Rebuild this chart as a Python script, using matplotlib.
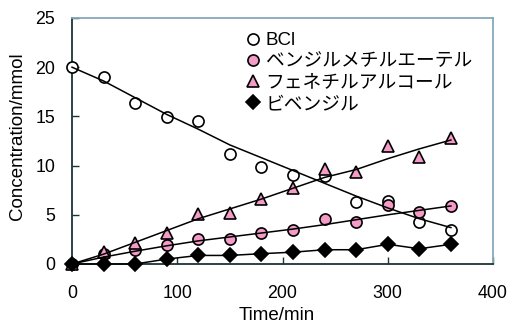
import matplotlib
matplotlib.use("Agg")
import matplotlib.pyplot as plt
from matplotlib.lines import Line2D

# ---- data ----
time = [0, 30, 60, 90, 120, 150, 180, 210, 240, 270, 300, 330, 360]
bcl = [20.0, 19.0, 16.4, 14.9, 14.5, 11.2, 9.9, 9.0, 8.9, 6.3, 6.4, 4.3, 3.5]
ether = [0.0, 1.0, 1.4, 1.9, 2.5, 2.5, 3.1, 3.5, 4.6, 4.3, 6.0, 5.3, 5.9]
alcohol = [0.0, 1.2, 2.1, 3.2, 5.1, 5.2, 6.6, 7.7, 9.7, 9.4, 12.0, 10.9, 12.8]
bibenzyl = [0.0, 0.0, 0.0, 0.5, 0.87, 0.87, 1.05, 1.2, 1.45, 1.45, 2.0, 1.55, 2.0]

# fitted curves
bcl_fit = [20.0, 18.6, 16.9, 15.2, 13.7, 12.1, 10.8, 9.5, 8.2, 6.9, 5.7, 4.6, 3.7]
ether_fit = [0.0, 0.7, 1.3, 1.85, 2.35, 2.75, 3.15, 3.55, 4.0, 4.5, 5.0, 5.45, 5.9]
alcohol_fit = [0.0, 1.0, 2.2, 3.4, 4.6, 5.6, 6.6, 7.7, 8.8, 9.6, 10.7, 11.7, 12.6]
bibenzyl_fit = bibenzyl

labels = ["BCl", "ベンジルメチルエーテル", "フェネチルアルコール", "ビベンジル"]
xticks = [0, 100, 200, 300, 400]
yticks = [0, 5, 10, 15, 20, 25]

FAM = ["Liberation Sans", "Noto Sans CJK JP", "DejaVu Sans"]
plt.rcParams["font.family"] = FAM

PINK = "#F59BC8"
DARK = "#1E3434"
LIGHT = "#86A8BA"

fig = plt.figure(figsize=(5.13, 3.27), dpi=100)
ax = fig.add_axes([72/513, 1-264/327, (493-72)/513, (264-18)/327])

ms = 8
mew = 1.2
ax.plot(time, bcl, ls="none", marker="o", ms=ms, mfc="white", mec="black", mew=mew, zorder=3, clip_on=False)
ax.plot(time, ether, ls="none", marker="o", ms=ms, mfc=PINK, mec="black", mew=mew, zorder=4, clip_on=False)
ax.plot(time, alcohol, ls="none", marker="^", ms=ms+1, mfc=PINK, mec="black", mew=mew, zorder=5, clip_on=False)
ax.plot(time, bibenzyl, ls="none", marker="D", ms=ms-1.2, mfc="black", mec="black", mew=mew, zorder=6, clip_on=False)

for f in (bcl_fit, ether_fit, alcohol_fit, bibenzyl_fit):
    ax.plot(time, f, color="black", lw=1.1, zorder=7, clip_on=False)

ax.set_xlim(0, 400)
ax.set_ylim(0, 25)
ax.set_xticks(xticks)
ax.set_yticks(yticks)
ax.tick_params(direction="in", length=5, width=1, labelsize=12.8, colors=DARK)
ax.tick_params(axis="both", labelcolor="black")
ax.tick_params(axis="y", pad=12)
ax.tick_params(axis="x", pad=15)
for s in ("left", "bottom"):
    ax.spines[s].set_color(DARK)
    ax.spines[s].set_linewidth(1.3)
for s in ("top", "right"):
    ax.spines[s].set_color(LIGHT)
    ax.spines[s].set_linewidth(1.3)

fig.text(18/513, 1-136/327, "Concentration/mmol", rotation=90, ha="center", va="center", fontsize=13.5, family=FAM)
fig.text(277/513, 1-315/327, "Time/min", ha="center", va="center", fontsize=13.5, family=FAM)

handles = [
    Line2D([], [], ls="none", marker="o", ms=ms, mfc="white", mec="black", mew=mew),
    Line2D([], [], ls="none", marker="o", ms=ms, mfc=PINK, mec="black", mew=mew),
    Line2D([], [], ls="none", marker="^", ms=ms+1, mfc=PINK, mec="black", mew=mew),
    Line2D([], [], ls="none", marker="D", ms=ms-1.2, mfc="black", mec="black", mew=mew),
]
leg = ax.legend(handles, labels, loc="upper left", bbox_to_anchor=((246-72)/421, 1-(32-18)/246),
                frameon=False, handlelength=0.7, handletextpad=0.35, labelspacing=0.22,
                borderaxespad=0, borderpad=0, prop={"family": FAM, "size": 13.5})

fig.savefig("out.png", dpi=100)
